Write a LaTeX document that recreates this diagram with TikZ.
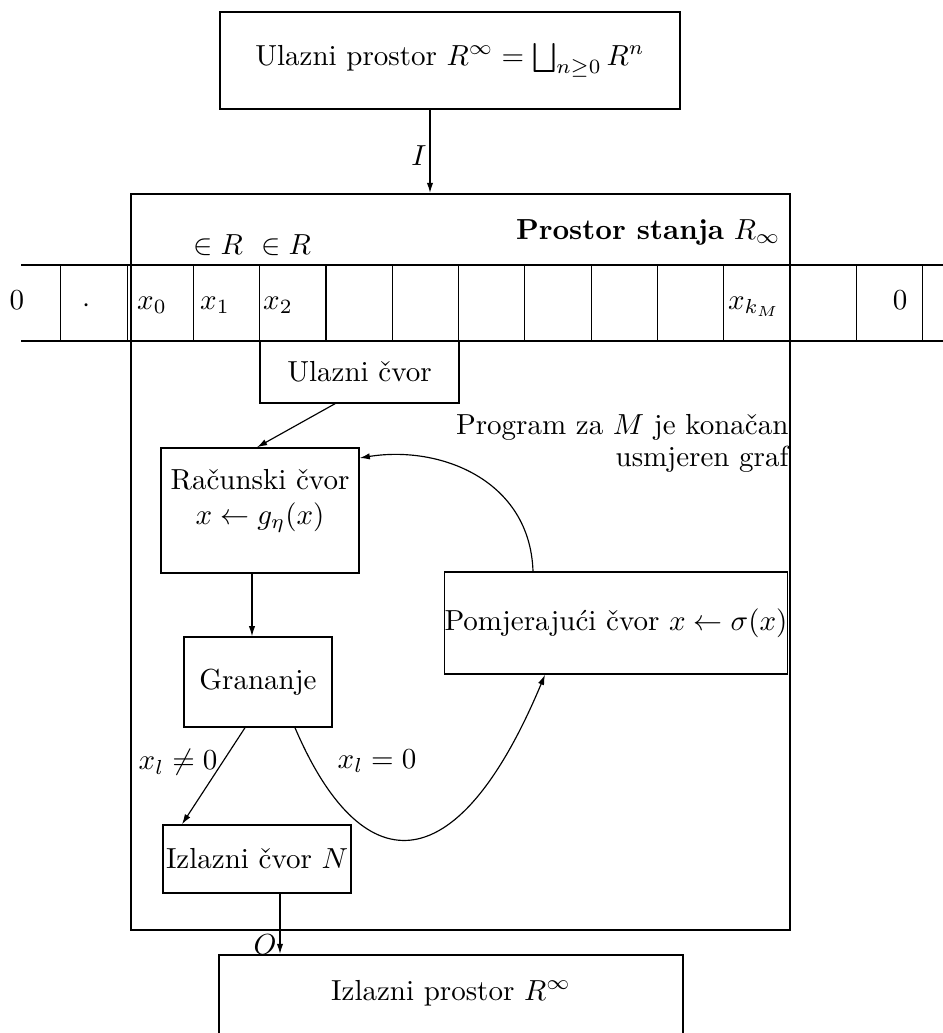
\documentclass[tikz,border=0pt]{standalone}
\usepackage{fontspec}
\usetikzlibrary{arrows.meta,calc}
\newcommand{\pxlen}{0.3448pt}
\tikzset{
    spacebox/.style={draw, line width=0.75pt, inner sep=0pt},
    cvorbox/.style={draw, line width=0.5pt, inner sep=0pt, align=center},
    cvorarrow/.style={-{Latex[length=3.5pt,width=2.2pt]}, line width=0.4pt},
    tapeline/.style={line width=0.75pt},
    cellline/.style={line width=0.35pt},
    celltext/.style={inner sep=0pt, anchor=base}
}

\begin{document}
\begin{tikzpicture}[x=\pxlen, y=-\pxlen]
\useasboundingbox (0,0) rectangle (943,1033);
\node[spacebox, minimum width=460*\pxlen, minimum height=97*\pxlen] (inspace) at (450,60.5) {Ulazni prostor $R^\infty = \bigsqcup_{n\geq 0} R^n$};
\node[spacebox, minimum width=659*\pxlen, minimum height=736*\pxlen] (statespace) at (460.5,562) {};
\node[celltext, anchor=base east] (statelbl) at (781,239) {\textbf{Prostor stanja} $R_\infty$};
\node[celltext] (inR1) at (218,254) {$\in R$};
\node[celltext] (inR2) at (286,254) {$\in R$};
\draw[tapeline] (21,265) -- (943,265);
\draw[tapeline] (21,341) -- (943,341);
\foreach \i in {0,...,13}
    \draw[cellline] (60.8+66.3*\i,265) -- (60.8+66.3*\i,341);
\node[celltext] (cell0) at (17,309) {$0$};
\node[celltext] (cell1) at (87,312) {$\cdot$};
\node[celltext] (cell2) at (152,309) {$x_0$};
\node[celltext] (cell3) at (215,309) {$x_1$};
\node[celltext] (cell4) at (278,309) {$x_2$};
\node[celltext] (cellk) at (754,309) {$x_{k_M}$};
\node[celltext] (cellz) at (900,309) {$0$};
\node[cvorbox, minimum width=199*\pxlen, minimum height=62*\pxlen] (ulaz) at (359.5,372) {Ulazni čvor};
\node[align=right, inner sep=0pt, anchor=east] (proglbl) at (789,443) {Program za $M$ je konačan\\[-1pt]usmjeren graf};
\node[cvorbox, minimum width=198*\pxlen, minimum height=125*\pxlen] (racun) at (260,510.5) {};
\node[align=center, inner sep=0pt] (racuntxt) at (260,501) {Računski čvor\\[0pt]$x \leftarrow g_\eta(x)$};
\node[cvorbox, minimum width=148*\pxlen, minimum height=90*\pxlen] (gran) at (258,682) {Grananje};
\node[cvorbox, minimum width=340*\pxlen, minimum height=102*\pxlen] (pomjer) at (616,623) {Pomjerajući čvor $x \leftarrow \sigma(x)$};
\node[cvorbox, minimum width=188*\pxlen, minimum height=68*\pxlen] (izlaz) at (257,859) {Izlazni čvor $N$};
\node[spacebox, minimum width=464*\pxlen, minimum height=98*\pxlen] (outspace) at (451,1004) {};
\node[inner sep=0pt] (outtxt) at (451,993) {Izlazni prostor $R^\infty$};
\node[inner sep=0pt] (nulalbl) at (377,761) {$x_l = 0$};
\draw[cvorarrow] ($(inspace.south)+(-20,0)$) coordinate (itop) -- (itop |- statespace.north) node[pos=0.55, left, inner sep=1pt] {$I$};
\draw[cvorarrow] ($(ulaz.south)+(-24.5,0)$) -- ($(racun.north)+(-3,0)$);
\draw[cvorarrow] ($(racun.south)+(-8,0)$) coordinate (rtop) -- (rtop |- gran.north);
\draw[cvorarrow] ($(gran.south)+(-13,0)$) -- ($(izlaz.north)+(-75,0)$) node[pos=0.36, left, inner sep=1.5pt] {$x_l \neq 0$};
\draw[cvorarrow] ($(gran.south)+(37,0)$) .. controls (360,880) and (455,890) .. ($(pomjer.south)+(-71,0)$);
\draw[cvorarrow] ($(pomjer.north)+(-83,0)$) .. controls (530,480) and (440,445) .. ($(racun.east)+(0,-52.5)$);
\draw[cvorarrow] ($(izlaz.south)+(23,0)$) coordinate (otop) -- (otop |- outspace.north) node[pos=0.85, left, inner sep=1pt] {$O$};
\end{tikzpicture}
\end{document}
